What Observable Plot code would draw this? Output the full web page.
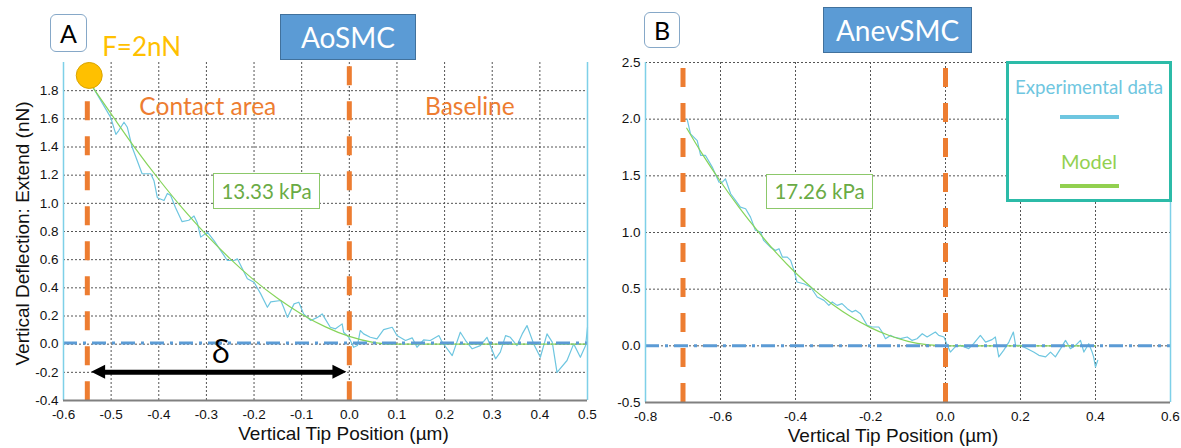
<!DOCTYPE html>
<html><head><meta charset="utf-8">
<script src="https://cdn.jsdelivr.net/npm/d3@7"></script>
<script src="https://cdn.jsdelivr.net/npm/@observablehq/plot@0.6"></script>
<style>
body{margin:0;background:#fff;}
#wrap{position:relative;width:1181px;height:448px;overflow:hidden;background:#fff;font-family:Lato,"Open Sans",sans-serif;}
.pane{position:absolute;top:0;}
.box{position:absolute;box-sizing:border-box;display:flex;align-items:center;justify-content:center;white-space:nowrap;line-height:1;}
.lbl{position:absolute;left:0;width:100%;text-align:center;line-height:1;white-space:nowrap;}
.seg{position:absolute;height:4px;}
</style></head><body>
<div id="wrap">
  <div id="paneA" class="pane" style="left:0"></div>
  <div id="paneB" class="pane" style="left:590px"></div>
  <div class="box" style="left:50px;top:14px;width:37px;height:38px;border:1px solid #86a8c8;border-radius:6px;font-size:25px;color:#000;background:#fff">A</div>
  <div class="box" style="left:644px;top:12px;width:36px;height:36px;border:1px solid #86a8c8;border-radius:6px;font-size:25px;color:#000;background:#fff">B</div>
  <div class="box" style="left:280px;top:14px;width:136px;height:46px;background:#5B9BD5;border:1px solid #41719C;color:#fff;font-size:28px">AoSMC</div>
  <div class="box" style="left:823px;top:7px;width:149px;height:46px;background:#5B9BD5;border:1px solid #41719C;color:#fff;font-size:28px">AnevSMC</div>
  <div class="box" style="left:213px;top:173px;width:107px;height:36px;background:#fff;border:1px solid #8cc86a;color:#6aab45;font-size:20.5px">13.33 kPa</div>
  <div class="box" style="left:766px;top:174px;width:107px;height:35px;background:#fff;border:1px solid #8cc86a;color:#6aab45;font-size:20.5px">17.26 kPa</div>
  <div style="position:absolute;left:1006px;top:61px;width:166px;height:141px;box-sizing:border-box;border:3px solid #2CBBA8;background:#fff">
    <div class="lbl" style="top:14px;font-size:18.7px;color:#6EC6E0">Experimental data</div>
    <div class="seg" style="left:51px;width:59px;top:51px;background:#6EC6E0"></div>
    <div class="lbl" style="top:87px;font-size:20px;color:#92D050">Model</div>
    <div class="seg" style="left:51px;width:59px;top:120px;background:#92D050"></div>
  </div>
</div>
<script>
// ---------- Panel A (AoSMC) ----------
const xTicksA = [-0.6,-0.5,-0.4,-0.3,-0.2,-0.1,0.0,0.1,0.2,0.3,0.4,0.5];
const yTicksA = [-0.4,-0.2,0.0,0.2,0.4,0.6,0.8,1.0,1.2,1.4,1.6,1.8];
const gridXA = [-0.5,-0.4,-0.3,-0.2,-0.1,0.0,0.1,0.2,0.3,0.4];
const gridYA = [-0.2,0.0,0.2,0.4,0.6,0.8,1.0,1.2,1.4,1.6,1.8];
const xDomA = [-0.6, 0.5];
const yDomA = [-0.4, 2.0];
const expAx = [-0.536,-0.501,-0.49,-0.484,-0.473,-0.466,-0.456,-0.445,-0.435,-0.417,-0.41,-0.403,-0.389,-0.382,-0.375,-0.365,-0.351,-0.337,-0.326,-0.319,-0.312,-0.298,-0.284,-0.256,-0.242,-0.235,-0.214,-0.2,-0.186,-0.172,-0.165,-0.144,-0.138,-0.13,-0.116,-0.106,-0.096,-0.081,-0.067,-0.057,-0.04,-0.029,-0.015,-0.012,-0.001,0.009,0.017,0.023,0.03,0.044,0.058,0.072,0.09,0.1,0.118,0.132,0.142,0.156,0.17,0.188,0.195,0.216,0.233,0.244,0.258,0.275,0.289,0.307,0.317,0.328,0.338,0.352,0.363,0.373,0.387,0.401,0.415,0.426,0.436,0.457,0.471,0.485,0.496,0.5];
const expAy = [1.813,1.61,1.49,1.517,1.576,1.54,1.40,1.30,1.21,1.21,1.16,1.04,1.02,1.07,1.055,0.97,0.87,0.88,0.91,0.86,0.76,0.795,0.735,0.594,0.594,0.606,0.464,0.44,0.357,0.262,0.30,0.31,0.262,0.19,0.286,0.298,0.215,0.168,0.19,0.215,0.12,0.109,0.144,0.085,0.049,-0.022,-0.01,0.097,0.073,0.049,0.037,0.103,0.12,0.061,0.026,0.045,-0.022,0.03,0.026,0.061,0.014,-0.081,0.085,0.026,-0.033,-0.01,0.049,-0.104,-0.057,0.061,0.049,-0.01,0.073,0.132,0.002,-0.093,0.073,0.014,-0.2,-0.116,0.002,-0.093,-0.01,0.12];
const modelAx = [-0.54,-0.5,-0.45,-0.4,-0.35,-0.3,-0.25,-0.2,-0.15,-0.1,-0.05,0.0,0.05,0.09,0.5];
const modelAy = [1.83,1.635,1.394,1.171,0.964,0.776,0.606,0.455,0.324,0.213,0.123,0.055,0.013,0.0,0.0];
const contactA = [-0.55, 0.0];
const baselineA = 0.008;
const forceA = {x: -0.546, y: 1.908};
const deltaA = {x1: -0.541, x2: -0.005, y: -0.2};

// ---------- Panel B (AnevSMC) ----------
const xTicksB = [-0.8,-0.6,-0.4,-0.2,0.0,0.2,0.4,0.6];
const yTicksB = [-0.5,0.0,0.5,1.0,1.5,2.0,2.5];
const gridXB = [-0.6,-0.4,-0.2,0.0,0.2,0.4];
const gridYB = [0.0,0.5,1.0,1.5,2.0,2.5];
const xDomB = [-0.8, 0.6];
const yDomB = [-0.5, 2.5];
const expBx = [-0.689,-0.68,-0.662,-0.653,-0.64,-0.622,-0.604,-0.595,-0.587,-0.573,-0.56,-0.547,-0.533,-0.52,-0.507,-0.493,-0.485,-0.467,-0.453,-0.444,-0.435,-0.422,-0.413,-0.404,-0.396,-0.378,-0.36,-0.342,-0.324,-0.311,-0.302,-0.289,-0.276,-0.262,-0.249,-0.24,-0.227,-0.209,-0.196,-0.178,-0.169,-0.16,-0.147,-0.138,-0.12,-0.102,-0.089,-0.076,-0.062,-0.049,-0.027,-0.018,-0.004,0.005,0.013,0.027,0.04,0.062,0.075,0.093,0.107,0.124,0.133,0.142,0.155,0.169,0.181,0.187,0.2,0.218,0.235,0.249,0.267,0.28,0.293,0.307,0.32,0.333,0.347,0.36,0.369,0.382,0.391,0.395,0.4,0.406];
const expBy = [2.0,1.87,1.81,1.68,1.68,1.577,1.444,1.444,1.474,1.342,1.283,1.224,1.21,1.136,1.02,1.004,0.93,0.871,0.842,0.857,0.783,0.783,0.754,0.666,0.563,0.548,0.519,0.431,0.401,0.357,0.387,0.357,0.372,0.328,0.298,0.313,0.284,0.181,0.166,0.166,0.122,0.063,0.092,0.078,0.063,0.078,0.048,0.063,0.107,0.078,0.122,0.092,0.078,0.004,-0.055,-0.004,0.004,-0.025,0.019,0.092,0.033,0.055,0.078,-0.098,-0.04,0.033,0.122,0.004,0.004,-0.025,-0.055,-0.084,-0.098,-0.055,-0.098,-0.025,0.048,-0.025,0.004,0.048,-0.055,0.019,-0.055,-0.098,-0.187,-0.128];
const modelBx = [-0.69,-0.65,-0.6,-0.55,-0.5,-0.45,-0.4,-0.35,-0.3,-0.25,-0.2,-0.15,-0.1,-0.05,0.0,0.4];
const modelBy = [1.92,1.70,1.45,1.22,1.01,0.816,0.645,0.494,0.363,0.252,0.161,0.091,0.040,0.010,0.0,0.0];
const contactB = [-0.7, 0.0];
const baselineB = 0.0;

const xLabel = "Vertical Tip Position (µm)";
const yLabel = "Vertical Deflection: Extend (nN)";

const C = {
  orange: "#ED7D31", gold: "#FFC000", base: "#5B9BD5",
  exp: "#6EC6E0", model: "#86D45A", grid: "#555", axisBlue: "#7ED0E8", axisGray: "#808080"
};
const tickFont = "Liberation Sans, Arial, sans-serif";
const calFont = "Lato, Open Sans, sans-serif";
const fmt = d => d.toFixed(1);
const zip = (xs, ys) => xs.map((x, i) => ({x, y: ys[i]}));

function panel(o) {
  const marks = [
    Plot.ruleY(o.gridY, {stroke: C.grid, strokeWidth: 1, strokeDasharray: "2,2"}),
    Plot.ruleX(o.gridX, {stroke: C.grid, strokeWidth: 1, strokeDasharray: "2,2"}),
    Plot.line(zip(o.expX, o.expY), {x: "x", y: "y", stroke: C.exp, strokeWidth: 1.2}),
    Plot.line(zip(o.modelX, o.modelY), {x: "x", y: "y", stroke: C.model, strokeWidth: 1.2, curve: "monotone-x"}),
    Plot.ruleY([o.baseline], {stroke: C.base, strokeWidth: 3, strokeDasharray: "14,6,3,6"}),
    Plot.ruleX(o.contact, {y1: o.contactTop, y2: o.yDom[0], stroke: C.orange, strokeWidth: 5, strokeDasharray: "19,16"}),
    Plot.ruleX([o.xDom[0]], {stroke: C.axisBlue, strokeWidth: 1.5}),
    Plot.ruleX([o.xDom[1]], {stroke: C.axisBlue, strokeWidth: 1.5}),
    Plot.ruleY([o.yDom[0]], {stroke: C.axisGray, strokeWidth: 2}),
    Plot.text(o.xTicks, {x: d => d, y: d => o.yDom[0], dy: 14, text: fmt, fontSize: 13.5, fontFamily: tickFont, fill: "#111"}),
    Plot.text(o.yTicks, {x: d => o.xDom[0], y: d => d, dx: -5, textAnchor: "end", text: fmt, fontSize: 13.5, fontFamily: tickFont, fill: "#111"}),
    Plot.text([xLabel], {frameAnchor: "bottom", textAnchor: "middle", dx: o.xLabelDx, dy: 39, text: d => d, fontSize: 19, fontFamily: tickFont, fill: "#111"})
  ];
  return marks.concat(o.extra || []);
}

// Panel A extras
const hlA = 14 / 476.4, hwA = 7 / 140.8;
const extraA = [
  Plot.text([yLabel], {frameAnchor: "left", textAnchor: "middle", rotate: -90, dx: -41, dy: 2, text: d => d, fontSize: 19, fontFamily: tickFont, fill: "#111"}),
  Plot.dot([forceA], {x: "x", y: "y", r: 13, fill: C.gold, stroke: "#D9A400", strokeWidth: 1}),
  Plot.text(["F=2nN"], {x: d => -0.436, y: d => 2.107, text: d => d, fill: C.gold, fontSize: 26, fontFamily: calFont}),
  Plot.text(["Contact area"], {x: d => -0.297, y: d => 1.68, text: d => d, fill: C.orange, fontSize: 24.5, fontFamily: calFont}),
  Plot.text(["Baseline"], {x: d => 0.253, y: d => 1.68, text: d => d, fill: C.orange, fontSize: 24.5, fontFamily: calFont}),
  Plot.text(["δ"], {x: d => -0.27, y: d => -0.06, text: d => d, fill: "#000", fontSize: 31, fontFamily: "Open Sans, sans-serif"}),
  Plot.ruleY([deltaA.y], {x1: deltaA.x1 + hlA * 0.8, x2: deltaA.x2 - hlA * 0.8, stroke: "#000", strokeWidth: 5}),
  Plot.areaY([{x: deltaA.x1, y1: deltaA.y, y2: deltaA.y}, {x: deltaA.x1 + hlA, y1: deltaA.y - hwA, y2: deltaA.y + hwA}], {x: "x", y1: "y1", y2: "y2", fill: "#000"}),
  Plot.areaY([{x: deltaA.x2 - hlA, y1: deltaA.y - hwA, y2: deltaA.y + hwA}, {x: deltaA.x2, y1: deltaA.y, y2: deltaA.y}], {x: "x", y1: "y1", y2: "y2", fill: "#000"})
];

const plotA = Plot.plot({
  width: 590, height: 448, marginLeft: 63, marginRight: 3, marginTop: 62, marginBottom: 48,
  x: {domain: xDomA, axis: null}, y: {domain: yDomA, axis: null},
  style: {background: "transparent", overflow: "visible"},
  marks: panel({gridX: gridXA, gridY: gridYA, expX: expAx, expY: expAy, modelX: modelAx, modelY: modelAy,
    baseline: baselineA, contact: contactA, contactTop: 1.97, xDom: xDomA, yDom: yDomA,
    xTicks: xTicksA, yTicks: yTicksA, xLabelDx: 18, extra: extraA})
});
document.getElementById("paneA").appendChild(plotA);

const plotB = Plot.plot({
  width: 591, height: 448, marginLeft: 55, marginRight: 11, marginTop: 62, marginBottom: 46,
  x: {domain: xDomB, axis: null}, y: {domain: yDomB, axis: null},
  style: {background: "transparent", overflow: "visible"},
  marks: panel({gridX: gridXB, gridY: gridYB, expX: expBx, expY: expBy, modelX: modelBx, modelY: modelBy,
    baseline: baselineB, contact: contactB, contactTop: 2.447, xDom: xDomB, yDom: yDomB,
    xTicks: xTicksB, yTicks: yTicksB, xLabelDx: -15, extra: []})
});
document.getElementById("paneB").appendChild(plotB);
</script>
</body></html>
